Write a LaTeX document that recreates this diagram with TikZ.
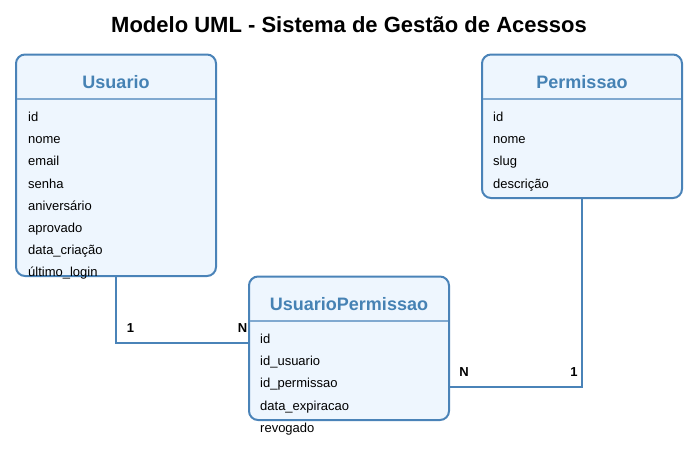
\documentclass[tikz,border=0pt]{standalone}
\usepackage{fontspec}
\setmainfont{Liberation Sans}
\definecolor{bordercol}{HTML}{4A83B8}
\definecolor{fillcol}{HTML}{EEF6FE}
\definecolor{sepcol}{HTML}{80A9D0}
\definecolor{titlecol}{HTML}{4682B4}
\tikzset{
  classbox/.style={draw=bordercol, fill=fillcol, line width=2pt, rounded corners=9pt, minimum width=200pt, inner sep=0pt},
  classname/.style={font=\fontsize{18}{20}\selectfont\bfseries, text=titlecol, inner sep=0pt, anchor=base},
  attr/.style={font=\fontsize{13}{15}\selectfont, anchor=base west, inner sep=0pt, text=black},
  sepline/.style={draw=sepcol, line width=1.5pt},
  conn/.style={draw=bordercol, line width=2pt},
  mult/.style={font=\fontsize{13}{15}\selectfont\bfseries, inner sep=0pt, anchor=base},
}
\begin{document}
\begin{tikzpicture}[x=1pt,y=-1pt]
\useasboundingbox (0,0) rectangle (697,451);
\node[font=\fontsize{22}{24}\selectfont\bfseries, inner sep=0pt, anchor=base] (title) at (349,32.7) {Modelo UML - Sistema de Gestão de Acessos};

% Usuario
\node[classbox, minimum height=221.5pt] (u) at (116,165.25) {};
\draw[sepline] (17,99) -- (215,99);
\node[classname] (uname) at (116,88.3) {Usuario};
\node[attr] (u1) at (28,121.4) {id};
\node[attr] (u2) at (28,143.6) {nome};
\node[attr] (u3) at (28,165.8) {email};
\node[attr] (u4) at (28,188.0) {senha};
\node[attr] (u5) at (28,210.2) {aniversário};
\node[attr] (u6) at (28,232.4) {aprovado};
\node[attr] (u7) at (28,254.6) {data\_criação};
\node[attr] (u8) at (28,276.8) {último\_login};

% Permissao
\node[classbox, minimum height=143.5pt] (p) at (582,126.25) {};
\draw[sepline] (483,99) -- (681,99);
\node[classname] (pname) at (582,88.3) {Permissao};
\node[attr] (p1) at (493,121.4) {id};
\node[attr] (p2) at (493,143.6) {nome};
\node[attr] (p3) at (493,165.8) {slug};
\node[attr] (p4) at (493,188.0) {descrição};

% UsuarioPermissao
\node[classbox, minimum height=143.5pt] (up) at (349,348.25) {};
\draw[sepline] (250,321) -- (448,321);
\node[classname] (upname) at (349,310.5) {UsuarioPermissao};
\node[attr] (up1) at (260,343.4) {id};
\node[attr] (up2) at (260,365.6) {id\_usuario};
\node[attr] (up3) at (260,387.8) {id\_permissao};
\node[attr] (up4) at (260,410.0) {data\_expiracao};
\node[attr] (up5) at (260,432.2) {revogado};

% connectors
\coordinate (c1) at (249,343);
\coordinate (c2) at (449,387);
\draw[conn] (u.south) |- (c1);
\draw[conn] (c2) -| (p.south);
\node[mult] (m1) at (130.5,332.3) {1};
\node[mult] (m2) at (242.5,332.3) {N};
\node[mult] (m3) at (464,376) {N};
\node[mult] (m4) at (574,376) {1};
\end{tikzpicture}
\end{document}
